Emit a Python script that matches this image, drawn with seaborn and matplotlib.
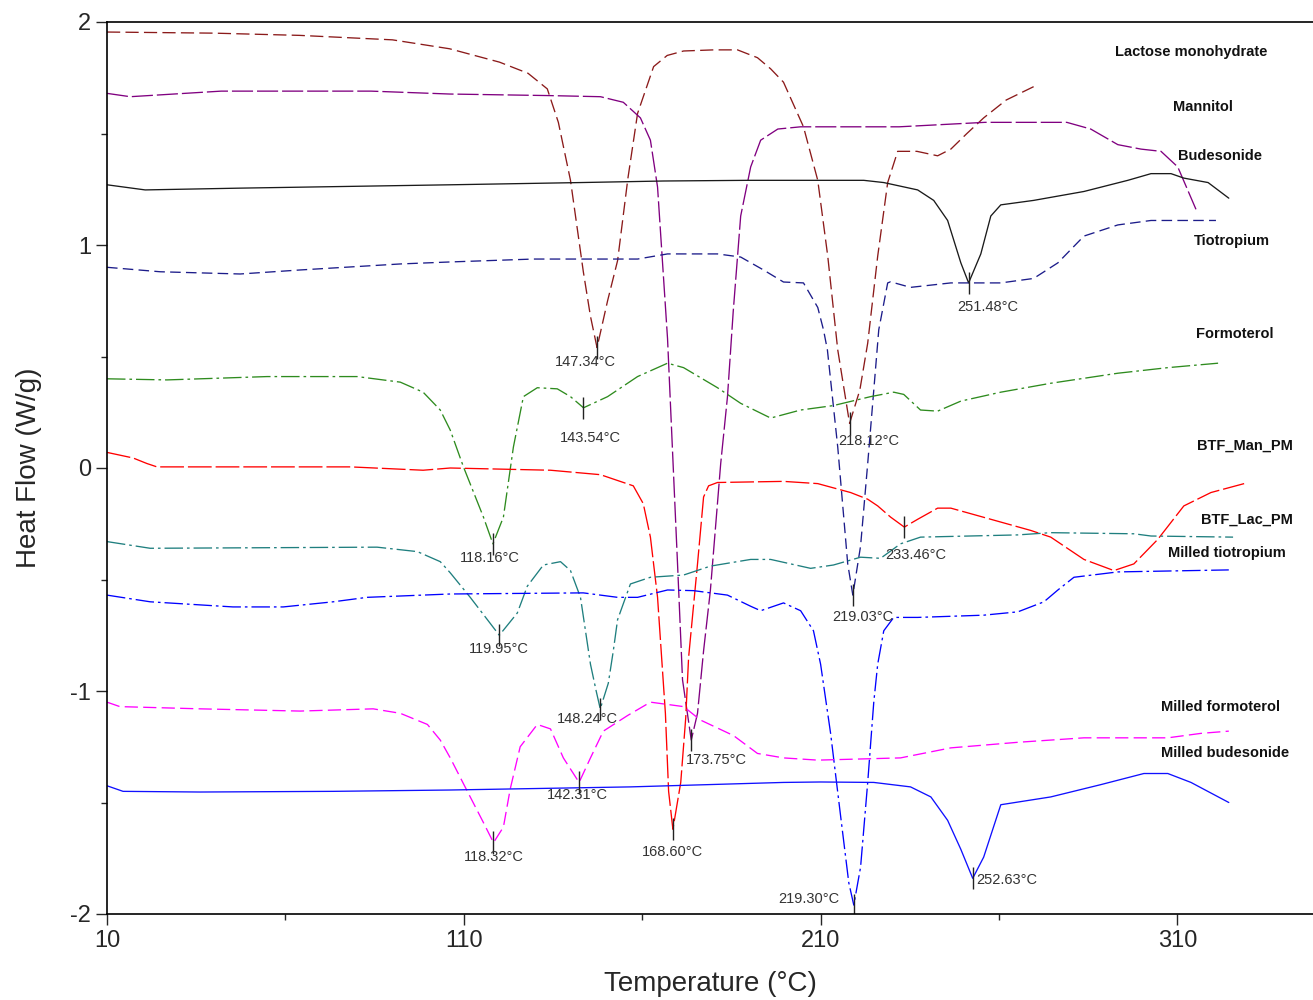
import matplotlib
matplotlib.use("Agg")
import matplotlib.pyplot as plt
import seaborn as sns
import pandas as pd
from matplotlib.ticker import MultipleLocator

# DSC traces, temperature (degC) vs heat flow (W/g)
lactose_t = [10, 40, 64, 90, 106, 120, 128, 133.4, 136.5, 139.9, 143.5, 145.5, 147.34, 150.3, 153.1, 156, 158.7, 163.2, 167, 171.6, 180, 186.7, 192.3, 196, 199.6, 205.2, 209.2, 212, 214.8, 218.12, 221, 223.2, 226, 228.8, 231.6, 237, 242.8, 246.5, 251, 255.7, 262, 269.7]
lactose_y = [1.955, 1.95, 1.94, 1.92, 1.88, 1.82, 1.77, 1.70, 1.55, 1.29, 0.88, 0.68, 0.54, 0.75, 0.93, 1.30, 1.59, 1.80, 1.85, 1.87, 1.875, 1.875, 1.84, 1.79, 1.73, 1.53, 1.29, 0.95, 0.53, 0.20, 0.35, 0.56, 0.95, 1.28, 1.42, 1.42, 1.40, 1.43, 1.50, 1.57, 1.65, 1.71]

mannitol_t = [10, 16.5, 42, 84, 106, 134, 148.3, 154.7, 159.5, 162.3, 164.3, 167.1, 169.9, 171.3, 173.75, 175.5, 177.2, 179.1, 182, 183.9, 185.5, 187.6, 190.4, 193.2, 198, 204.4, 232, 256, 279, 285.7, 293.3, 299.8, 305.4, 310.1, 315.2]
mannitol_y = [1.68, 1.665, 1.69, 1.69, 1.677, 1.67, 1.665, 1.64, 1.57, 1.47, 1.26, 0.58, -0.43, -0.95, -1.22, -1.10, -0.82, -0.55, 0.02, 0.32, 0.70, 1.13, 1.35, 1.47, 1.52, 1.53, 1.53, 1.55, 1.55, 1.52, 1.45, 1.43, 1.42, 1.35, 1.16]

budesonide_t = [10, 20.7, 47.3, 106.2, 142.7, 166, 189.5, 222.1, 227.7, 237.2, 241.7, 245.6, 249.3, 251.48, 254.9, 257.7, 260.5, 269.7, 283.8, 296.1, 302.6, 308.2, 311.8, 318.6, 324.4]
budesonide_y = [1.27, 1.247, 1.255, 1.27, 1.28, 1.287, 1.29, 1.29, 1.28, 1.247, 1.20, 1.11, 0.92, 0.83, 0.96, 1.13, 1.18, 1.20, 1.24, 1.29, 1.32, 1.32, 1.30, 1.28, 1.21]

tiotropium_t = [10, 24.9, 47.3, 64.1, 92.2, 106.2, 129.5, 158.7, 167.1, 181.1, 187.6, 194, 199.6, 205.2, 209.2, 210.8, 211.9, 214.8, 217.6, 219.03, 221.2, 223.2, 226.3, 228.8, 229.6, 235.2, 246.5, 260.5, 269.7, 276.5, 283.8, 293.3, 302.6, 320.8]
tiotropium_y = [0.90, 0.88, 0.87, 0.888, 0.915, 0.924, 0.937, 0.937, 0.96, 0.96, 0.946, 0.888, 0.834, 0.83, 0.72, 0.62, 0.53, 0.094, -0.43, -0.57, -0.35, 0.02, 0.62, 0.83, 0.835, 0.81, 0.83, 0.83, 0.85, 0.92, 1.04, 1.09, 1.11, 1.11]

formoterol_t = [10, 26.8, 54.9, 80.1, 92.2, 98.6, 103.4, 106.2, 109.9, 115.5, 118.16, 121.1, 123.9, 126.7, 130.6, 136.2, 139.9, 143.54, 150.3, 158.7, 167.1, 171.6, 181.1, 187.6, 196, 204.4, 213.6, 224, 230.5, 233.3, 238, 242.8, 249.3, 260.5, 274.5, 293.3, 307.3, 321.4]
formoterol_y = [0.40, 0.395, 0.41, 0.41, 0.385, 0.34, 0.26, 0.17, 0.005, -0.22, -0.34, -0.22, 0.094, 0.32, 0.36, 0.355, 0.32, 0.27, 0.32, 0.41, 0.47, 0.45, 0.36, 0.29, 0.224, 0.26, 0.28, 0.32, 0.34, 0.33, 0.26, 0.255, 0.30, 0.34, 0.38, 0.425, 0.45, 0.47]

btf_man_t = [10, 17.3, 21.2, 24, 45.3, 78.2, 98.6, 106.2, 134.3, 148.3, 157.5, 160.3, 162.3, 164.3, 166.5, 167.4, 168.6, 170.8, 172.2, 173, 175.5, 177.2, 178.6, 181.1, 199.6, 209.2, 218.4, 223.2, 226, 229.6, 233.46, 237.2, 242.8, 246.5, 257.7, 268.9, 274.5, 283.8, 292.2, 297.8, 304.5, 311.8, 319.4, 328.7]
btf_man_y = [0.07, 0.045, 0.02, 0.005, 0.005, 0.005, -0.01, 0.0, -0.01, -0.03, -0.08, -0.16, -0.31, -0.58, -1.10, -1.45, -1.62, -1.41, -1.12, -0.85, -0.43, -0.13, -0.08, -0.065, -0.06, -0.07, -0.11, -0.14, -0.17, -0.22, -0.265, -0.23, -0.18, -0.18, -0.23, -0.28, -0.31, -0.41, -0.46, -0.43, -0.32, -0.17, -0.11, -0.07]

btf_lac_t = [10, 22.1, 85.7, 97, 103.4, 106.2, 111.8, 116.6, 119.95, 125, 127.8, 132.3, 137.1, 139.9, 142.7, 145.5, 147.1, 148.24, 150.5, 151.9, 153.1, 156.7, 162.3, 171.6, 179.1, 190.4, 196, 207.2, 213.6, 221.2, 226.8, 232.4, 238, 265.3, 274.5, 297.8, 302.6, 325.6]
btf_lac_y = [-0.33, -0.36, -0.355, -0.375, -0.42, -0.47, -0.58, -0.68, -0.75, -0.65, -0.53, -0.435, -0.42, -0.46, -0.58, -0.88, -1.0, -1.08, -0.965, -0.82, -0.68, -0.52, -0.49, -0.48, -0.44, -0.41, -0.41, -0.45, -0.435, -0.40, -0.405, -0.34, -0.31, -0.30, -0.29, -0.295, -0.305, -0.31]

milled_tio_t = [10, 22.1, 45.3, 59.4, 73.4, 82.9, 106.2, 143.5, 153.1, 158.7, 167.1, 174.4, 183.9, 190.4, 193.2, 199.6, 204.4, 208, 210, 212.8, 215.6, 217.9, 219.3, 221.2, 223.2, 224.9, 226, 227.7, 230.5, 237.2, 255.7, 265.3, 272.6, 276.5, 281, 293.3, 324.4]
milled_tio_y = [-0.57, -0.60, -0.623, -0.623, -0.60, -0.58, -0.565, -0.56, -0.58, -0.58, -0.547, -0.55, -0.57, -0.62, -0.64, -0.605, -0.64, -0.73, -0.88, -1.19, -1.56, -1.86, -1.96, -1.79, -1.41, -1.05, -0.88, -0.73, -0.67, -0.67, -0.66, -0.645, -0.60, -0.547, -0.49, -0.466, -0.457]

milled_form_t = [10, 13.6, 36.1, 64.1, 84.6, 92.2, 99.8, 103.4, 106.2, 111.8, 115.5, 118.32, 121.1, 123, 125.8, 130.6, 134.3, 137.9, 142.31, 145.5, 149.1, 155.9, 162.3, 171.6, 176.3, 185.6, 192.3, 199.6, 209.2, 232.4, 246.5, 265.3, 283.8, 307.3, 316.6, 324.4]
milled_form_y = [-1.05, -1.07, -1.08, -1.09, -1.08, -1.10, -1.15, -1.22, -1.30, -1.475, -1.59, -1.68, -1.61, -1.44, -1.25, -1.15, -1.17, -1.30, -1.41, -1.30, -1.18, -1.11, -1.05, -1.07, -1.13, -1.20, -1.28, -1.30, -1.31, -1.30, -1.255, -1.23, -1.21, -1.21, -1.19, -1.18]

milled_bud_t = [10, 14.5, 36.1, 73.4, 106.2, 156.7, 199.6, 210, 224.9, 235.2, 240.9, 245.6, 249.3, 252.63, 255.7, 260.5, 274.5, 288.5, 300.6, 307.3, 313.8, 324.4]
milled_bud_y = [-1.425, -1.45, -1.453, -1.45, -1.444, -1.43, -1.41, -1.408, -1.41, -1.43, -1.475, -1.58, -1.71, -1.84, -1.745, -1.51, -1.475, -1.42, -1.37, -1.37, -1.41, -1.50]

series_names = ["Lactose monohydrate", "Mannitol", "Budesonide", "Tiotropium", "Formoterol",
                "BTF_Man_PM", "BTF_Lac_PM", "Milled tiotropium", "Milled formoterol", "Milled budesonide"]
series_data = [(lactose_t, lactose_y), (mannitol_t, mannitol_y), (budesonide_t, budesonide_y),
               (tiotropium_t, tiotropium_y), (formoterol_t, formoterol_y), (btf_man_t, btf_man_y),
               (btf_lac_t, btf_lac_y), (milled_tio_t, milled_tio_y), (milled_form_t, milled_form_y),
               (milled_bud_t, milled_bud_y)]

# where each trace name is written (left edge, vertical centre)
name_t = [292.5, 308.7, 310.1, 314.6, 315.2, 315.5, 316.6, 307.3, 305.4, 305.4]
name_y = [1.865, 1.62, 1.40, 1.02, 0.60, 0.10, -0.233, -0.38, -1.07, -1.28]

# peak annotations
peak_t = [147.34, 251.48, 143.54, 218.12, 118.16, 233.46, 219.03, 119.95, 148.24, 173.75, 142.31, 118.32, 168.60, 219.30, 252.63]
peak_y = [0.54, 0.83, 0.27, 0.20, -0.34, -0.265, -0.57, -0.75, -1.08, -1.22, -1.41, -1.68, -1.62, -1.96, -1.84]
peak_text = ["147.34°C", "251.48°C", "143.54°C", "218.12°C", "118.16°C", "233.46°C", "219.03°C",
             "119.95°C", "148.24°C", "173.75°C", "142.31°C", "118.32°C", "168.60°C", "219.30°C", "252.63°C"]
peak_offset = [(-12, 14), (19, 24), (7, 30), (19, 18), (-3, 14), (11, 28), (10, 22), (0, 14),
               (-13, 10), (25, 20), (-2, 13), (0, 14), (0, 23), (-45, -6), (34, 2)]

colors = ["#8b1a1a", "#800080", "#1a1a1a", "#1c1c8a", "#2e8b1e",
          "#ff0000", "#1f7f7f", "#0000ff", "#ff00ff", "#1010ff"]
styles = [(0, (10, 4)), (0, (16, 3)), "-", (0, (8, 4)), (0, (14, 3, 2, 3)),
          (0, (18, 3)), (0, (14, 3, 2, 3)), (0, (14, 3, 2, 3)), (0, (10, 4)), "-"]

sns.set_style("ticks")
plt.rcParams['font.family'] = ['Liberation Sans', 'DejaVu Sans']
plt.rcParams['axes.unicode_minus'] = False

fig = plt.figure(figsize=(13.13, 10), dpi=100)
ax = fig.add_axes([107 / 1313, 0.086, 1 - 107 / 1313, 0.892])

for name, (t, y), c, ls in zip(series_names, series_data, colors, styles):
    df = pd.DataFrame({"T": t, "HF": y})
    sns.lineplot(data=df, x="T", y="HF", ax=ax, color=c, linestyle=ls, lw=0.95,
                 estimator=None, sort=False)

for name, x, y in zip(series_names, name_t, name_y):
    ax.text(x, y, name, fontsize=10.5, fontweight="bold", ha="left", va="center", color="#111111")

ax.vlines(peak_t, [v - 0.05 for v in peak_y], [v + 0.05 for v in peak_y], color="#222222", lw=1)
for t, y, s, (dx, dy) in zip(peak_t, peak_y, peak_text, peak_offset):
    ax.annotate(s, xy=(t, y), xytext=(dx, -dy), textcoords="offset pixels",
                ha="center", va="center", fontsize=10.5, color="#333333")

ax.set_xlim(10, 348)
ax.set_ylim(-2, 2)
ax.yaxis.set_major_locator(MultipleLocator(1))
ax.yaxis.set_minor_locator(MultipleLocator(0.5))
ax.set_xticks([10, 110, 210, 310])
ax.set_xticks([60, 160, 260], minor=True)
ax.tick_params(which="major", length=8, width=1, labelsize=17, direction="out")
ax.tick_params(which="minor", length=4, width=1, direction="out")
ax.spines["right"].set_visible(False)
for sp in ["left", "bottom", "top"]:
    ax.spines[sp].set_linewidth(1.2)
    ax.spines[sp].set_color("black")

ax.set_xlabel("Temperature (°C)", fontsize=20, labelpad=14)
ax.set_ylabel("Heat Flow (W/g)", fontsize=20, labelpad=20)

fig.savefig("out.png", dpi=100)
